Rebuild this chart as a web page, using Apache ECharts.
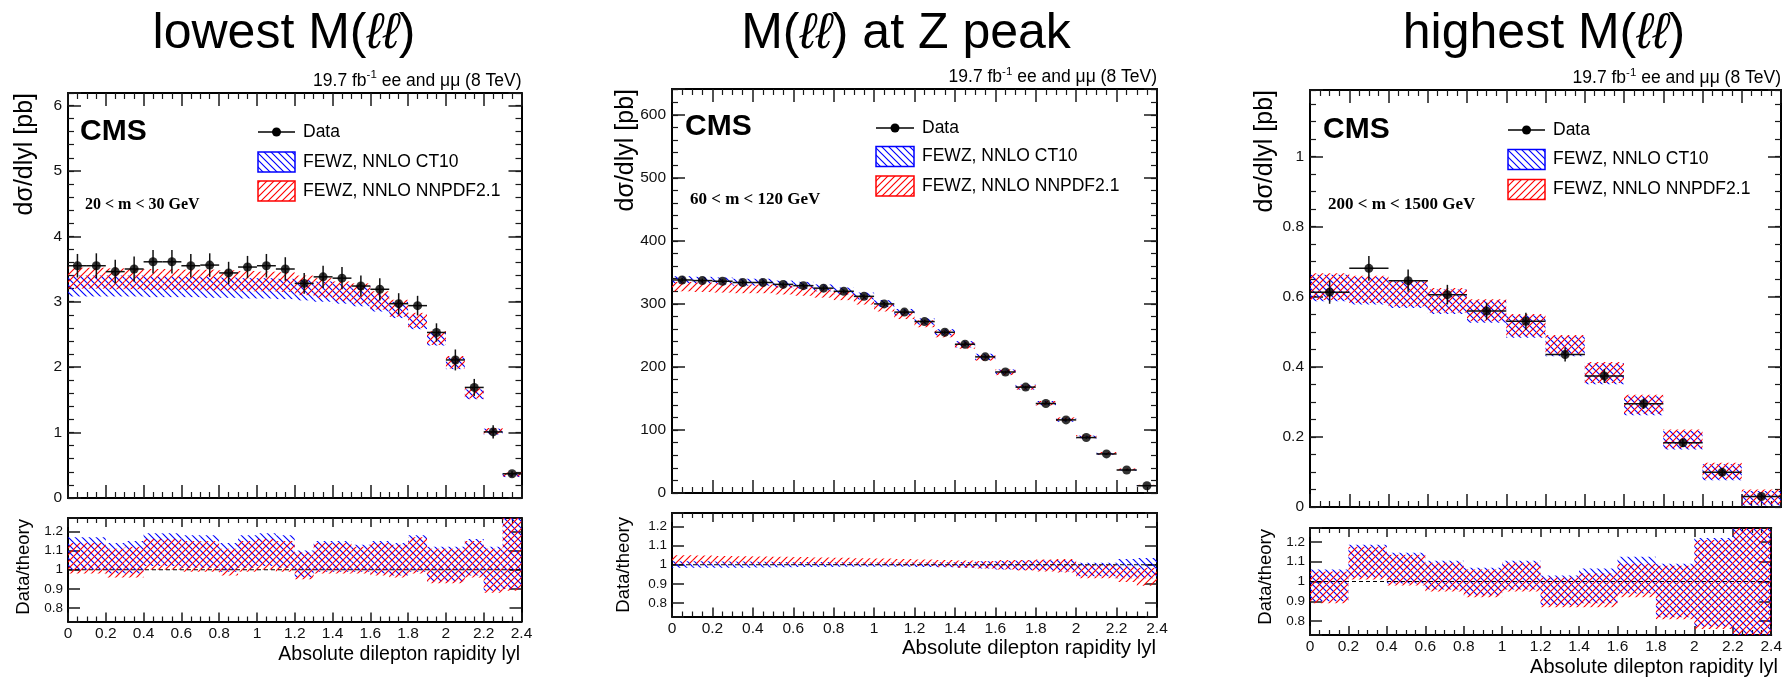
<!DOCTYPE html>
<html><head><meta charset="utf-8">
<script src="https://cdn.jsdelivr.net/npm/echarts@6/dist/echarts.min.js"></script>
<style>html,body{margin:0;padding:0;background:#fff}#c{width:1785px;height:678px}</style>
</head><body><div id="c"></div>
<script>
// ---------------- DATA ----------------
const binEdges24 = [0,0.1,0.2,0.3,0.4,0.5,0.6,0.7,0.8,0.9,1.0,1.1,1.2,1.3,1.4,1.5,1.6,1.7,1.8,1.9,2.0,2.1,2.2,2.3,2.4];
const binEdges12 = [0,0.2,0.4,0.6,0.8,1.0,1.2,1.4,1.6,1.8,2.0,2.2,2.4];
const xTickLabels = ['0','0.2','0.4','0.6','0.8','1','1.2','1.4','1.6','1.8','2','2.2','2.4'];
const panelTitles = ['lowest M(', 'M(', 'highest M('];
const massLabels = ['20 < m < 30 GeV', '60 < m < 120 GeV', '200 < m < 1500 GeV'];
const legendNames = ['Data', 'FEWZ, NNLO CT10', 'FEWZ, NNLO NNPDF2.1'];
const ratioRef = 1;

// Panel 1: 20 < m < 30 GeV
const data1 = [3.55,3.55,3.46,3.50,3.61,3.61,3.55,3.56,3.44,3.53,3.55,3.50,3.28,3.38,3.36,3.24,3.19,2.97,2.94,2.53,2.11,1.69,1.01,0.37];
const err1  = [0.18,0.19,0.18,0.19,0.18,0.18,0.18,0.18,0.17,0.17,0.18,0.18,0.16,0.17,0.17,0.16,0.17,0.16,0.15,0.14,0.16,0.13,0.10,0.04];
const ct10Lo1 = [3.08,3.08,3.08,3.08,3.07,3.07,3.07,3.06,3.06,3.05,3.05,3.04,3.02,3.00,2.97,2.93,2.85,2.75,2.58,2.33,1.97,1.51,0.97,0.32];
const ct10Hi1 = [3.40,3.40,3.40,3.40,3.39,3.39,3.38,3.38,3.37,3.36,3.36,3.35,3.33,3.31,3.27,3.24,3.12,3.00,2.80,2.53,2.15,1.66,1.06,0.38];
const nnLo1   = [3.20,3.20,3.19,3.19,3.18,3.18,3.18,3.17,3.17,3.16,3.16,3.15,3.10,3.06,3.01,2.97,2.88,2.77,2.60,2.34,1.98,1.52,0.98,0.33];
const nnHi1   = [3.52,3.52,3.51,3.51,3.50,3.50,3.49,3.49,3.48,3.47,3.46,3.45,3.40,3.36,3.31,3.28,3.16,3.03,2.83,2.55,2.17,1.68,1.07,0.39];
const rCtLo1 = [1.00,1.00,0.98,0.98,1.02,1.02,1.01,1.01,0.99,1.01,1.02,1.01,0.96,0.99,0.99,0.99,0.98,0.97,0.99,0.94,0.94,0.97,0.89,0.90];
const rCtHi1 = [1.17,1.17,1.14,1.15,1.19,1.19,1.18,1.18,1.14,1.18,1.19,1.18,1.10,1.15,1.15,1.13,1.15,1.14,1.18,1.12,1.12,1.16,1.12,1.28];
const rNnLo1 = [0.98,0.98,0.96,0.96,1.00,1.00,0.99,0.99,0.97,0.99,1.00,0.99,0.95,0.98,0.98,0.98,0.97,0.96,0.98,0.93,0.93,0.96,0.88,0.89];
const rNnHi1 = [1.14,1.14,1.11,1.12,1.16,1.16,1.15,1.15,1.11,1.15,1.16,1.15,1.09,1.14,1.14,1.12,1.14,1.13,1.17,1.11,1.11,1.15,1.11,1.27];

// Panel 2: 60 < m < 120 GeV
const data2 = [338,337,336,334,334,331,329,325,320,312,300,287,272,255,236,216,192,168,142,116,88,62,36.5,11.5];
const err2  = [3,3,3,3,3,3,3,3,3,3,3,3,3,3,3,2,2,2,2,2,2,1.5,1,0.5];
const ct10Lo2 = [333,332,331,329,329,326,324,320,315,307,295,282,267,250,231,211,188,164,139,113,86,60.5,35.5,11];
const ct10Hi2 = [344,343,342,340,340,337,335,331,326,318,306,292,277,260,241,221,196,172,146,119,91,64,38,12.5];
const nnLo2   = [320,319,318,317,317,315,313,310,306,299,288,276,263,247,229,210,187,164,139,114,87,61,36,11.5];
const nnHi2   = [335,334,333,331,331,329,327,323,319,312,300,288,274,258,239,219,196,171,146,120,92,65,39,13];
const rCtLo2 = [0.985,0.985,0.985,0.985,0.986,0.987,0.988,0.988,0.989,0.99,0.99,0.99,0.988,0.987,0.985,0.98,0.975,0.972,0.97,0.965,0.94,0.94,0.93,0.93];
const rCtHi2 = [1.018,1.018,1.017,1.017,1.016,1.015,1.014,1.014,1.013,1.012,1.012,1.012,1.012,1.013,1.015,1.018,1.02,1.022,1.024,1.025,1.01,1.01,1.03,1.035];
const rNnLo2 = [1.005,1.005,1.005,1.004,1.003,1.002,1.0,1.0,0.999,0.998,0.997,0.995,0.993,0.99,0.985,0.98,0.975,0.97,0.965,0.96,0.93,0.93,0.91,0.89];
const rNnHi2 = [1.05,1.048,1.046,1.044,1.043,1.042,1.04,1.038,1.036,1.034,1.032,1.03,1.027,1.025,1.022,1.02,1.025,1.025,1.028,1.03,1.0,1.0,0.99,0.985];

// Panel 3: 200 < m < 1500 GeV
const data3 = [0.613,0.681,0.646,0.606,0.559,0.530,0.435,0.374,0.295,0.183,0.099,0.030];
const err3  = [0.033,0.035,0.032,0.028,0.024,0.024,0.020,0.020,0.015,0.012,0.010,0.006];
const ct10Lo3 = [0.587,0.578,0.568,0.551,0.526,0.483,0.430,0.350,0.262,0.164,0.076,0.004];
const ct10Hi3 = [0.663,0.656,0.644,0.621,0.589,0.547,0.487,0.410,0.316,0.217,0.122,0.046];
const nnLo3   = [0.591,0.582,0.572,0.555,0.530,0.487,0.434,0.354,0.266,0.168,0.080,0.007];
const nnHi3   = [0.667,0.660,0.648,0.625,0.593,0.551,0.491,0.414,0.320,0.221,0.126,0.050];
const rCtLo3 = [0.90,1.02,0.99,0.96,0.93,0.96,0.88,0.89,0.94,0.82,0.77,0.70];
const rCtHi3 = [1.06,1.185,1.145,1.105,1.07,1.105,1.03,1.065,1.125,1.09,1.22,1.30];
const rNnLo3 = [0.89,1.01,0.98,0.95,0.92,0.95,0.87,0.87,0.92,0.81,0.76,0.70];
const rNnHi3 = [1.05,1.175,1.135,1.095,1.06,1.095,1.02,1.04,1.09,1.08,1.21,1.30];

// ---------------- LAYOUT / STYLE ----------------
const SANS = '"Liberation Sans", Arial, Helvetica, sans-serif';
const SERIF = '"Liberation Serif", "Times New Roman", serif';
const AX = '#1a1a1a';
const BLUE = '#0000ff', RED = '#ff0000';

const panels = [
  { edges: binEdges24, data: data1, err: err1, ctLo: ct10Lo1, ctHi: ct10Hi1, nnLo: nnLo1, nnHi: nnHi1,
    rCtLo: rCtLo1, rCtHi: rCtHi1, rNnLo: rNnLo1, rNnHi: rNnHi1,
    main: [68, 93, 453.5, 405], ratio: [68, 518, 453.5, 103.5],
    yMax: 6.19, yStep: 1, yMinor: 0.2, yDec: 0,
    titleX: 284, titlePre: panelTitles[0], titlePost: ')',
    lumiY: 81, cms: [80, 131.5], mass: [85, 205, 16],
    leg: { lx: 258, lw: 37, tx: 303, ys: [132, 162, 191] },
    yTitle: [25, 93], rTitle: [24, 519], xTitle: [520, 655, 19.5] },
  { edges: binEdges24, data: data2, err: err2, ctLo: ct10Lo2, ctHi: ct10Hi2, nnLo: nnLo2, nnHi: nnHi2,
    rCtLo: rCtLo2, rCtHi: rCtHi2, rNnLo: rNnLo2, rNnHi: rNnHi2,
    main: [672, 89, 485, 404], ratio: [672, 513, 485, 103.5],
    yMax: 641, yStep: 100, yMinor: 20, yDec: 0,
    titleX: 906, titlePre: panelTitles[1], titlePost: ') at Z peak',
    lumiY: 77.5, cms: [685, 126.5], mass: [690, 199.5, 17],
    leg: { lx: 876, lw: 38, tx: 922, ys: [128, 156.5, 186] },
    yTitle: [626, 89], rTitle: [624, 517], xTitle: [1156, 648, 20.5] },
  { edges: binEdges12, data: data3, err: err3, ctLo: ct10Lo3, ctHi: ct10Hi3, nnLo: nnLo3, nnHi: nnHi3,
    rCtLo: rCtLo3, rCtHi: rCtHi3, rNnLo: rNnLo3, rNnHi: rNnHi3,
    main: [1310, 90, 471, 417], ratio: [1310, 528, 471, 107],
    yMax: 1.19, yStep: 0.2, yMinor: 0.05, yDec: 1,
    titleX: 1544, titlePre: panelTitles[2], titlePost: ')',
    lumiY: 78.5, cms: [1323, 130], mass: [1328, 204.5, 17],
    leg: { lx: 1508, lw: 37, tx: 1553, ys: [130, 159.5, 189.5] },
    yTitle: [1265, 90], rTitle: [1266, 529], xTitle: [1778, 667, 20] }
];

// hatch patterns
function hatch(color, dir, size, lw) {
  const c = document.createElement('canvas');
  c.width = size; c.height = size;
  const g = c.getContext('2d');
  g.strokeStyle = color; g.lineWidth = lw;
  g.beginPath();
  if (dir === 'back') {
    g.moveTo(-1, -1); g.lineTo(size + 1, size + 1);
    g.moveTo(-1, size - 1); g.lineTo(1, size + 1);
    g.moveTo(size - 1, -1); g.lineTo(size + 1, 1);
  } else {
    g.moveTo(-1, size + 1); g.lineTo(size + 1, -1);
    g.moveTo(-1, 1); g.lineTo(1, -1);
    g.moveTo(size - 1, size + 1); g.lineTo(size + 1, size - 1);
  }
  g.stroke();
  return c;
}
const patBlue = { image: hatch(BLUE, 'back', 7, 1.15), repeat: 'repeat' };
const patRed = { image: hatch(RED, 'fwd', 7, 1.15), repeat: 'repeat' };

function fmtMultiple(step, dec) {
  return function (v) {
    const k = v / step;
    if (Math.abs(k - Math.round(k)) > 1e-6) return '';
    return String(+v.toFixed(dec));
  };
}
function xFmt(v) {
  const k = Math.round(v / 0.2);
  if (Math.abs(v / 0.2 - k) > 1e-6) return '';
  return xTickLabels[k] || '';
}

const grids = [], xAxes = [], yAxes = [], series = [], graphics = [];

function addGrid(r) { grids.push({ left: r[0], top: r[1], width: r[2], height: r[3] }); return grids.length - 1; }

function addXAxes(gi, showLabels, tl, ml) {
  const base = { type: 'value', gridIndex: gi, min: 0, max: 2.4, interval: 0.2, splitLine: { show: false } };
  const idx = xAxes.length;
  ['bottom', 'top'].forEach(pos => {
    xAxes.push(Object.assign({}, base, {
      position: pos,
      axisLine: { show: true, onZero: false, lineStyle: { color: '#000', width: 2 } },
      axisTick: { show: true, inside: true, length: tl, lineStyle: { color: AX, width: 1.5 } },
      minorTick: { show: true, splitNumber: 4, length: ml, lineStyle: { color: AX, width: 1.2 } },
      axisLabel: { show: showLabels && pos === 'bottom', formatter: xFmt, fontFamily: SANS, fontSize: 15.5, color: '#111', margin: 4 }
    }));
  });
  return idx;
}

function addYAxes(gi, cfg) {
  const idx = yAxes.length;
  ['left', 'right'].forEach(pos => {
    const major = {
      type: 'value', gridIndex: gi, position: pos, min: cfg.min, max: cfg.max,
      splitLine: { show: false },
      axisLine: { show: true, onZero: false, lineStyle: { color: '#000', width: 2 } },
      axisTick: { show: true, inside: true, length: cfg.tl, lineStyle: { color: AX, width: 1.5 } },
      axisLabel: { show: pos === 'left', formatter: fmtMultiple(cfg.step, cfg.dec), fontFamily: SANS, fontSize: cfg.fs, color: '#111', margin: cfg.margin, showMinLabel: true, showMaxLabel: true }
    };
    if (cfg.interval) major.interval = cfg.interval; else major.splitNumber = cfg.splitNumber;
    yAxes.push(major);
    if (cfg.minor) {
      yAxes.push({
        type: 'value', gridIndex: gi, position: pos, min: cfg.min, max: cfg.max, interval: cfg.minor,
        splitLine: { show: false },
        axisLine: { show: false, onZero: false },
        axisTick: { show: true, inside: true, length: cfg.ml, lineStyle: { color: AX, width: 1.2 } },
        axisLabel: { show: false }
      });
    }
  });
  return idx;
}

function bandRender(pattern) {
  return function (params, api) {
    const p0 = api.coord([api.value(0), api.value(3)]);
    const p1 = api.coord([api.value(1), api.value(2)]);
    const cs = params.coordSys;
    const shape = echarts.graphic.clipRectByRect(
      { x: p0[0], y: p0[1], width: p1[0] - p0[0], height: p1[1] - p0[1] },
      { x: cs.x, y: cs.y, width: cs.width, height: cs.height });
    if (!shape) return;
    return { type: 'rect', shape: shape, style: { fill: pattern } };
  };
}
function errRender(params, api) {
  const x0 = api.value(0), x1 = api.value(1), y = api.value(2), e = api.value(3);
  const a = api.coord([x0, y]), b = api.coord([x1, y]);
  const c = api.coord([(x0 + x1) / 2, y - e]), d = api.coord([(x0 + x1) / 2, y + e]);
  const st = { stroke: '#111', lineWidth: 1.5 };
  return { type: 'group', children: [
    { type: 'line', shape: { x1: a[0], y1: a[1], x2: b[0], y2: b[1] }, style: st },
    { type: 'line', shape: { x1: c[0], y1: c[1], x2: d[0], y2: d[1] }, style: st }
  ] };
}
function bandData(edges, lo, hi) { return lo.map((v, i) => [edges[i], edges[i + 1], lo[i], hi[i]]); }

const measureCtx = document.createElement('canvas').getContext('2d');
function textW(str, font) { measureCtx.font = font; return measureCtx.measureText(str).width; }

function txt(x, y, text, font, align, vAlign, extra) {
  return Object.assign({ type: 'text', x: x, y: y, silent: true, style: {
    text: text, font: font, fill: '#000',
    textAlign: align, textVerticalAlign: vAlign
  } }, extra || {});
}

panels.forEach((P, pi) => {
  const gm = addGrid(P.main), gr = addGrid(P.ratio);
  const xm = addXAxes(gm, false, 13, 6);
  const xr = addXAxes(gr, true, 9, 5);
  const ym = addYAxes(gm, { min: 0, max: P.yMax, interval: P.yStep, step: P.yStep, dec: P.yDec, minor: P.yMinor, tl: 13, ml: 6, fs: 15.5, margin: 6 });
  const yr = addYAxes(gr, { min: 0.73, max: 1.27, splitNumber: 5, step: 0.1, dec: 1, tl: 12, fs: 13.5, margin: 5 });

  series.push({ type: 'custom', xAxisIndex: xm, yAxisIndex: ym, clip: true, silent: true, z: 2,
    renderItem: bandRender(patBlue), data: bandData(P.edges, P.ctLo, P.ctHi) });
  series.push({ type: 'custom', xAxisIndex: xm, yAxisIndex: ym, clip: true, silent: true, z: 3,
    renderItem: bandRender(patRed), data: bandData(P.edges, P.nnLo, P.nnHi) });
  series.push({ type: 'custom', xAxisIndex: xm, yAxisIndex: ym, clip: true, silent: true, z: 4,
    renderItem: errRender, data: P.data.map((v, i) => [P.edges[i], P.edges[i + 1], v, P.err[i]]) });
  series.push({ type: 'scatter', xAxisIndex: xm, yAxisIndex: ym, silent: true, z: 5, symbol: 'circle', symbolSize: 9,
    itemStyle: { color: '#000' }, data: P.data.map((v, i) => [(P.edges[i] + P.edges[i + 1]) / 2, v]) });
  series.push({ type: 'custom', xAxisIndex: xr, yAxisIndex: yr, clip: true, silent: true, z: 2,
    renderItem: bandRender(patBlue), data: bandData(P.edges, P.rCtLo, P.rCtHi) });
  series.push({ type: 'custom', xAxisIndex: xr, yAxisIndex: yr, clip: true, silent: true, z: 3,
    renderItem: bandRender(patRed), data: bandData(P.edges, P.rNnLo, P.rNnHi) });
  series.push({ type: 'line', xAxisIndex: xr, yAxisIndex: yr, silent: true, z: 4, symbol: 'none',
    lineStyle: { color: '#000', width: 1, type: [4, 3] }, data: [[0, ratioRef], [2.4, ratioRef]] });

  // titles
  const tf = '50px ' + SANS, tfi = 'italic 50px ' + SANS;
  const wPre = textW(P.titlePre, tf), wL = textW('ℓℓ', tfi), wPost = textW(P.titlePost, tf);
  let tx = P.titleX - (wPre + wL + wPost) / 2;
  graphics.push(txt(tx, 34, P.titlePre, tf, 'left', 'middle'));
  graphics.push(txt(tx + wPre, 34, 'ℓℓ', tfi, 'left', 'middle'));
  graphics.push(txt(tx + wPre + wL, 34, P.titlePost, tf, 'left', 'middle'));

  // luminosity label
  const lf = '17.5px ' + SANS, sf = '11.5px ' + SANS;
  const s1 = '19.7 fb', s2 = '-1', s3 = ' ee and μμ (8 TeV)';
  const w1 = textW(s1, lf), w2 = textW(s2, sf), w3 = textW(s3, lf);
  const rx = P.main[0] + P.main[2];
  const lx = rx - (w1 + w2 + w3);
  graphics.push(txt(lx, P.lumiY, s1, lf, 'left', 'middle'));
  graphics.push(txt(lx + w1, P.lumiY - 6, s2, sf, 'left', 'middle'));
  graphics.push(txt(lx + w1 + w2, P.lumiY, s3, lf, 'left', 'middle'));

  graphics.push(txt(P.cms[0], P.cms[1], 'CMS', 'bold 30px ' + SANS, 'left', 'middle'));
  graphics.push(txt(P.mass[0], P.mass[1], massLabels[pi], 'bold ' + P.mass[2] + 'px ' + SERIF, 'left', 'middle'));

  // legend
  const L = P.leg;
  graphics.push({ type: 'line', silent: true, shape: { x1: L.lx, y1: L.ys[0], x2: L.lx + L.lw, y2: L.ys[0] }, style: { stroke: '#000', lineWidth: 1.5 } });
  graphics.push({ type: 'circle', silent: true, shape: { cx: L.lx + L.lw / 2, cy: L.ys[0], r: 4.5 }, style: { fill: '#000' } });
  graphics.push({ type: 'rect', silent: true, shape: { x: L.lx, y: L.ys[1] - 10, width: L.lw, height: 20 }, style: { fill: patBlue, stroke: BLUE, lineWidth: 1.5 } });
  graphics.push({ type: 'rect', silent: true, shape: { x: L.lx, y: L.ys[2] - 10, width: L.lw, height: 20 }, style: { fill: patRed, stroke: RED, lineWidth: 1.5 } });
  legendNames.forEach((n, k) => graphics.push(txt(L.tx, L.ys[k], n, '17.5px ' + SANS, 'left', 'middle')));

  // axis titles
  graphics.push(txt(P.yTitle[0], P.yTitle[1], 'dσ/dlyl [pb]', '25px ' + SANS, 'right', 'middle', { rotation: Math.PI / 2 }));
  graphics.push(txt(P.rTitle[0], P.rTitle[1], 'Data/theory', '18.5px ' + SANS, 'right', 'middle', { rotation: Math.PI / 2 }));
  graphics.push(txt(P.xTitle[0], P.xTitle[1], 'Absolute dilepton rapidity lyl', P.xTitle[2] + 'px ' + SANS, 'right', 'middle'));
});

const chart = echarts.init(document.getElementById('c'), null, { renderer: 'canvas' });
chart.setOption({
  animation: false,
  backgroundColor: '#fff',
  grid: grids, xAxis: xAxes, yAxis: yAxes, series: series, graphic: graphics
});
</script>
</body></html>
